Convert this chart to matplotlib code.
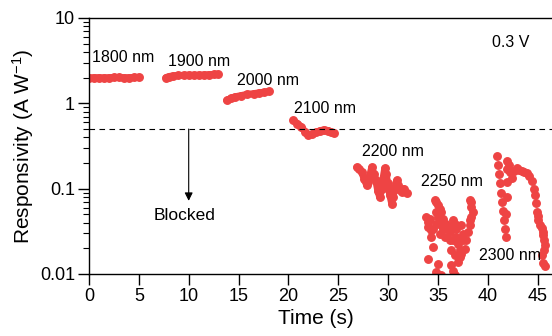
import matplotlib
matplotlib.use('Agg')
import matplotlib.pyplot as plt

plt.rcParams['font.family'] = ['Liberation Sans', 'DejaVu Sans']
plt.rcParams['mathtext.fontset'] = 'custom'
plt.rcParams['mathtext.rm'] = 'Liberation Sans'
plt.rcParams['mathtext.default'] = 'regular'

red = '#EE4444'

# smooth segments (time in s, responsivity in A/W)
t1800 = [0.0, 0.5, 1.0, 1.5, 2.0, 2.5, 3.0, 3.5, 4.0, 4.5, 5.0]
r1800 = [1.99, 2.0, 2.0, 1.99, 2.0, 2.01, 2.01, 2.0, 2.0, 2.01, 2.02]

t1900 = [7.7, 8.0, 8.4, 8.9, 9.5, 10.0, 10.5, 11.0, 11.5, 12.0, 12.5, 12.9]
r1900 = [2.00, 2.06, 2.10, 2.12, 2.13, 2.14, 2.13, 2.14, 2.15, 2.17, 2.18, 2.20]

t2000 = [13.8, 14.2, 14.6, 15.2, 15.8, 16.5, 17.1, 17.6, 18.1]
r2000 = [1.08, 1.14, 1.19, 1.23, 1.27, 1.30, 1.33, 1.35, 1.38]

t2100 = [20.5, 20.9, 21.3, 21.7, 22.0, 22.4, 22.8, 23.2, 23.6, 24.0, 24.3, 24.6]
r2100 = [0.63, 0.58, 0.53, 0.46, 0.42, 0.44, 0.46, 0.48, 0.49, 0.48, 0.46, 0.45]

t2200 = [26.85, 27.1, 27.35, 27.6, 27.86, 28.0, 28.16, 28.36, 28.56, 28.76, 28.96,
         29.16, 29.36, 29.46, 29.66, 29.8, 29.96, 30.16, 30.36, 30.5, 30.66, 30.86,
         31.0, 31.16, 31.4, 31.56, 31.86]
r2200 = [0.178, 0.17, 0.155, 0.13, 0.109, 0.12, 0.143, 0.178, 0.15, 0.125, 0.095,
         0.079, 0.1, 0.125, 0.173, 0.15, 0.115, 0.085, 0.067, 0.08, 0.1, 0.125,
         0.11, 0.096, 0.092, 0.1, 0.09]

# noisy segments (individual samples)
t2250 = [33.83, 34.0, 34.17, 34.0, 34.34, 34.5, 34.34, 34.5, 34.0, 35.0, 34.84,
         34.67, 34.84, 35.0, 35.17, 35.34, 34.84, 35.0, 35.17, 34.84, 35.34, 35.5,
         35.5, 35.17, 35.67, 35.84, 36.0, 36.17, 36.34, 36.51, 36.67, 36.84, 36.17,
         36.51, 36.84, 37.01, 37.17, 36.34, 36.67, 37.17, 36.34, 36.51, 37.01, 37.34,
         37.51, 37.51, 37.34, 38.18, 38.34, 38.34, 38.51, 38.34, 38.18, 38.18, 38.01,
         37.84, 37.68, 35.3, 36.7]
r2250 = [0.0465, 0.0406, 0.0445, 0.0355, 0.0324, 0.0339, 0.0271, 0.0207, 0.0151,
         0.0132, 0.0105, 0.0729, 0.0697, 0.0637, 0.058, 0.0532, 0.0532, 0.0465,
         0.0425, 0.0388, 0.0371, 0.0445, 0.0339, 0.0297, 0.0271, 0.0388, 0.0339,
         0.031, 0.0355, 0.0425, 0.0388, 0.0339, 0.0248, 0.0248, 0.0271, 0.0227,
         0.0189, 0.0189, 0.0165, 0.0158, 0.0126, 0.0108, 0.0138, 0.0173, 0.0248,
         0.0297, 0.0371, 0.0729, 0.0697, 0.0609, 0.0532, 0.0465, 0.0425, 0.0371,
         0.031, 0.0248, 0.0198, 0.0098, 0.0098]

t2300 = [40.9, 41.0, 41.1, 41.2, 41.3, 41.4, 41.5, 41.6, 41.7, 41.8, 41.85, 41.88,
         41.9, 41.92, 41.95, 42.1, 42.25, 42.39, 42.6, 42.9, 43.15, 43.4, 43.65,
         43.9, 44.15, 44.4, 44.6, 44.73, 44.82, 44.9, 45.0, 45.07, 45.2, 45.4, 45.5,
         45.57, 45.65, 45.74, 45.6, 45.4, 45.57, 45.7]
r2300 = [0.239, 0.19, 0.15, 0.115, 0.09, 0.07, 0.055, 0.043, 0.034, 0.027, 0.05,
         0.08, 0.12, 0.17, 0.21, 0.19, 0.155, 0.133, 0.16, 0.175, 0.165, 0.16,
         0.157, 0.153, 0.14, 0.122, 0.10, 0.085, 0.068, 0.054, 0.048, 0.043, 0.038,
         0.0346, 0.031, 0.0289, 0.025, 0.0221, 0.019, 0.0169, 0.0135, 0.0125]

labels = ['1800 nm', '1900 nm', '2000 nm', '2100 nm', '2200 nm', '2250 nm', '2300 nm']
label_t = [3.4, 11.0, 17.95, 23.67, 30.5, 36.4, 42.25]
label_r = [3.40, 3.13, 1.83, 0.88, 0.269, 0.12, 0.0163]

dark_level = 0.5

fig = plt.figure(figsize=(5.52, 3.36), dpi=100)
ax = fig.add_axes([89/552, 62/336, 463/552, 256/336])

for t, r in [(t1800, r1800), (t1900, r1900), (t2000, r2000), (t2100, r2100), (t2200, r2200)]:
    ax.plot(t, r, '-o', color=red, lw=5, ms=5.4, solid_capstyle='round',
            solid_joinstyle='round')
ax.plot(t2250, r2250, 'o', color=red, ms=5.4, ls='none')
ax.plot(t2300, r2300, 'o', color=red, ms=5.4, ls='none')

ax.axhline(dark_level, color='black', lw=0.8, ls=(0, (5, 4)))
ax.annotate('', xy=(10, 0.072), xytext=(10, dark_level),
            arrowprops=dict(arrowstyle='-|>', color='black', lw=0.8,
                            mutation_scale=12, shrinkA=0, shrinkB=0))
ax.text(9.6, 0.049, 'Blocked', fontsize=12.5, ha='center', va='center')

for s, x, y in zip(labels, label_t, label_r):
    ax.text(x, y, s, fontsize=11.5, ha='center', va='center')
ax.text(42.3, 5.1, '0.3 V', fontsize=11.5, ha='center', va='center')

ax.set_yscale('log')
ax.set_ylim(0.01, 10)
ax.set_xlim(0, 46.44)
ax.set_xticks(range(0, 50, 5))
ax.set_yticks([0.01, 0.1, 1, 10])
ax.set_yticklabels(['0.01', '0.1', '1', '10'])
ax.tick_params(axis='both', which='major', direction='out', length=8, width=1,
               labelsize=13, pad=2)
ax.tick_params(axis='y', which='minor', direction='out', length=4, width=0.8)
ax.tick_params(axis='x', which='minor', bottom=False)

for sp in ['left', 'bottom', 'top']:
    ax.spines[sp].set_linewidth(1.0)
ax.spines['right'].set_visible(False)

ax.set_xlabel('Time (s)', fontsize=15)
ax.set_ylabel('Responsivity (A W$^{-1}$)', fontsize=15)
ax.xaxis.set_label_coords(0.49, -0.135)
ax.yaxis.set_label_coords(-0.115, 0.5)

fig.savefig('out.png', dpi=100)
